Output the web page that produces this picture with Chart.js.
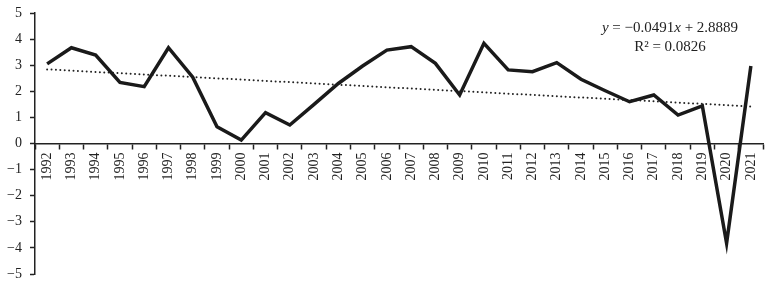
<!DOCTYPE html>
<html>
<head>
  <title>Trend chart</title>
  <script src="https://cdn.jsdelivr.net/npm/chart.js"></script>
  <style>
    body { margin: 0; background: #fff; }
    #box { width: 771px; height: 284px; }
  </style>
</head>
<body>
  <div id="box"><canvas id="trendChart" width="771" height="284"></canvas></div>

  <script>
    var years = ["1992", "1993", "1994", "1995", "1996", "1997", "1998", "1999", "2000", "2001",
                 "2002", "2003", "2004", "2005", "2006", "2007", "2008", "2009", "2010", "2011",
                 "2012", "2013", "2014", "2015", "2016", "2017", "2018", "2019", "2020", "2021"];
    var values = [3.05, 3.67, 3.39, 2.34, 2.18, 3.67, 2.54, 0.64, 0.13, 1.18,
                  0.71, 1.5, 2.3, 2.97, 3.58, 3.71, 3.07, 1.86, 3.84, 2.82,
                  2.75, 3.1, 2.46, 2.02, 1.6, 1.86, 1.09, 1.44, -3.82, 2.97];
    // trend line end points (first and last year), gaps joined
    var trend = [2.84, null, null, null, null, null, null, null, null, null,
                 null, null, null, null, null, null, null, null, null, null,
                 null, null, null, null, null, null, null, null, null, 1.42];
    var yTicks = [-5, -4, -3, -2, -1, 0, 1, 2, 3, 4, 5];
    var eqLine1 = ["y", " = \u22120.0491", "x", " + 2.8889"];
    var eqLine2 = "R\u00b2 = 0.0826";

    var serif = "'Liberation Serif', 'DejaVu Serif', serif";

    var equationPlugin = {
      id: "equation",
      afterDraw: function(chart) {
        var ctx = chart.ctx;
        ctx.save();
        ctx.fillStyle = "#222";
        ctx.textBaseline = "middle";
        var cx = 670;
        // first line with italic y and x
        var parts = eqLine1.map(function(t, i) {
          return { text: t, font: (i % 2 === 0 ? "italic " : "") + "15px " + serif };
        });
        var total = 0;
        parts.forEach(function(p) { ctx.font = p.font; p.w = ctx.measureText(p.text).width; total += p.w; });
        var x = cx - total / 2;
        ctx.textAlign = "left";
        parts.forEach(function(p) { ctx.font = p.font; ctx.fillText(p.text, x, 28); x += p.w; });
        ctx.font = "15px " + serif;
        ctx.textAlign = "center";
        ctx.fillText(eqLine2, cx, 47);
        ctx.restore();
      }
    };

    var ctx = document.getElementById("trendChart").getContext("2d");

    new Chart(ctx, {
      type: "line",
      data: {
        labels: years,
        datasets: [{
          label: "Value",
          data: values,
          borderColor: "#1a1a1a",
          borderWidth: 3.5,
          pointRadius: 0,
          tension: 0,
          borderJoinStyle: "miter"
        }, {
          label: "Trend",
          data: trend,
          borderColor: "#222",
          borderWidth: 2,
          borderDash: [0, 4.4],
          borderCapStyle: "round",
          pointRadius: 0,
          spanGaps: true
        }]
      },
      options: {
        responsive: false,
        animation: false,
        layout: { padding: { top: 13, right: 8, bottom: 10, left: 4 } },
        plugins: {
          legend: { display: false },
          tooltip: { enabled: false }
        },
        scales: {
          x: {
            position: { y: 0 },
            offset: true,
            afterFit: function(scale) { scale.paddingLeft = 0; scale.paddingRight = 0; },
            grid: { offset: true, drawOnChartArea: false, tickLength: 5, color: "#222", tickWidth: 1.5 },
            border: { color: "#222", width: 1.5 },
            ticks: {
              autoSkip: false,
              minRotation: 90,
              maxRotation: 90,
              padding: 4,
              color: "#222",
              font: { family: serif, size: 14 }
            }
          },
          y: {
            min: -5,
            max: 5,
            afterBuildTicks: function(scale) {
              scale.ticks = yTicks.map(function(v) { return { value: v }; });
            },
            afterFit: function(scale) {
              scale.width = 31;
              scale.paddingTop = 0;
              scale.paddingBottom = 0;
            },
            grid: { drawOnChartArea: false, tickLength: 5, color: "#222", tickWidth: 1.5 },
            border: { color: "#222", width: 1.5 },
            ticks: {
              padding: 8,
              color: "#222",
              font: { family: serif, size: 14 },
              callback: function(v) { return v < 0 ? "\u2212" + Math.abs(v) : String(v); }
            }
          }
        }
      },
      plugins: [equationPlugin]
    });
  </script>
</body>
</html>
